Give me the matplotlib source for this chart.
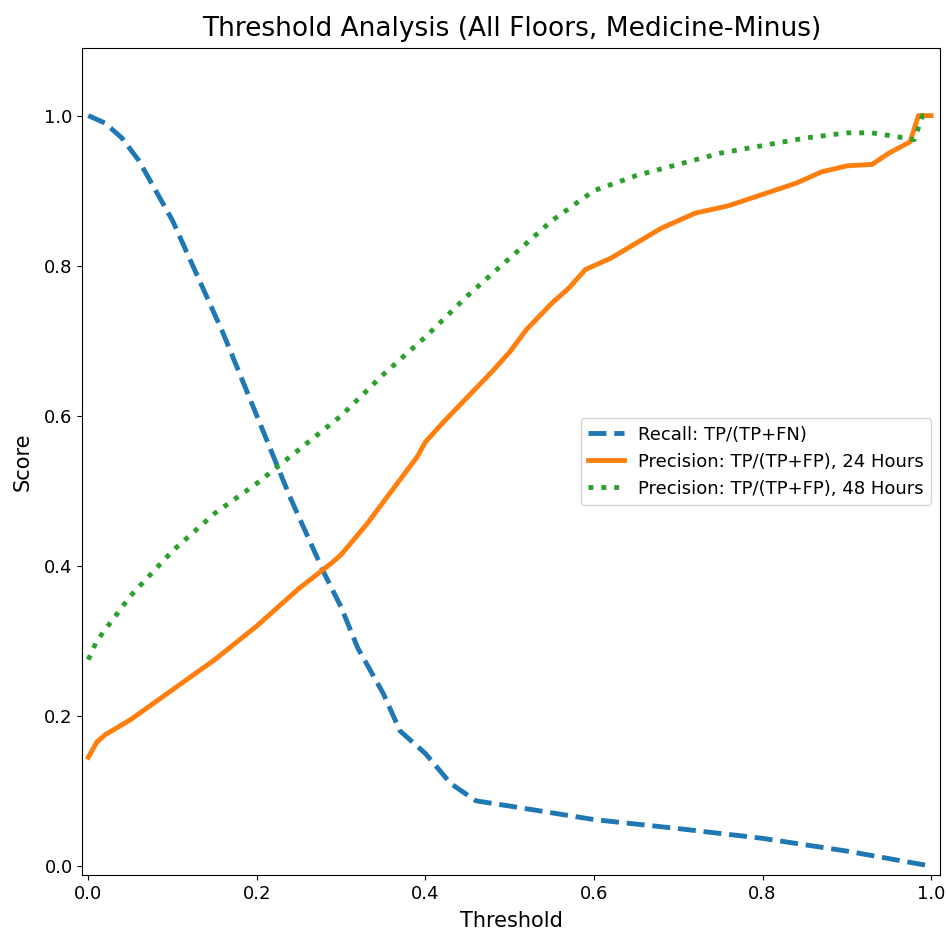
import matplotlib
matplotlib.use("Agg")
import matplotlib.pyplot as plt

# recall curve
recall_x = [0.0, 0.02, 0.04, 0.06, 0.08, 0.10, 0.12, 0.14, 0.16, 0.18, 0.20, 0.22, 0.24,
            0.26, 0.28, 0.30, 0.32, 0.33, 0.35, 0.37, 0.40, 0.43, 0.46, 0.50, 0.60, 0.70,
            0.80, 0.90, 0.95, 1.0]
recall_y = [1.0, 0.99, 0.97, 0.94, 0.90, 0.86, 0.81, 0.76, 0.71, 0.655, 0.60, 0.545, 0.49,
            0.44, 0.39, 0.345, 0.29, 0.27, 0.23, 0.18, 0.15, 0.11, 0.087, 0.08, 0.062, 0.05,
            0.037, 0.02, 0.01, 0.0]

# precision, 24 hours
p24_x = [0.0, 0.01, 0.02, 0.05, 0.10, 0.15, 0.20, 0.25, 0.29, 0.30, 0.33, 0.35, 0.38, 0.39,
         0.40, 0.42, 0.45, 0.48, 0.50, 0.52, 0.55, 0.57, 0.59, 0.62, 0.65, 0.68, 0.72, 0.76,
         0.80, 0.84, 0.87, 0.90, 0.93, 0.95, 0.975, 0.985, 1.0]
p24_y = [0.145, 0.165, 0.175, 0.195, 0.235, 0.275, 0.32, 0.37, 0.405, 0.415, 0.455, 0.485,
         0.53, 0.545, 0.565, 0.59, 0.625, 0.66, 0.685, 0.715, 0.75, 0.77, 0.795, 0.81, 0.83,
         0.85, 0.87, 0.88, 0.895, 0.91, 0.925, 0.933, 0.935, 0.95, 0.965, 1.0, 1.0]

# precision, 48 hours
p48_x = [0.0, 0.01, 0.03, 0.05, 0.10, 0.15, 0.20, 0.25, 0.30, 0.35, 0.40, 0.45, 0.50, 0.55,
         0.60, 0.65, 0.70, 0.75, 0.80, 0.85, 0.90, 0.93, 0.97, 0.98, 0.99, 1.0]
p48_y = [0.275, 0.30, 0.33, 0.36, 0.42, 0.47, 0.51, 0.555, 0.60, 0.655, 0.705, 0.76, 0.81,
         0.86, 0.90, 0.92, 0.935, 0.95, 0.96, 0.97, 0.977, 0.977, 0.97, 0.968, 1.0, 1.0]

fig, ax = plt.subplots(figsize=(9.47, 9.42), dpi=100)
fig.subplots_adjust(left=0.087, right=0.993, bottom=0.071, top=0.949)

ax.plot(recall_x, recall_y, "--", color="#1f77b4", lw=3.5, label="Recall: TP/(TP+FN)")
ax.plot(p24_x, p24_y, "-", color="#ff7f0e", lw=3.5, label="Precision: TP/(TP+FP), 24 Hours")
ax.plot(p48_x, p48_y, ":", color="#2ca02c", lw=3.5, label="Precision: TP/(TP+FP), 48 Hours")

ax.set_xlim(-0.007, 1.011)
ax.set_ylim(-0.012, 1.09)
ax.set_title("Threshold Analysis (All Floors, Medicine-Minus)", fontsize=19, pad=9)
ax.set_xlabel("Threshold", fontsize=15, labelpad=6)
ax.set_ylabel("Score", fontsize=15, labelpad=8)
ax.tick_params(labelsize=13)
ax.legend(loc="center right", fontsize=13)

fig.savefig("out.png")
